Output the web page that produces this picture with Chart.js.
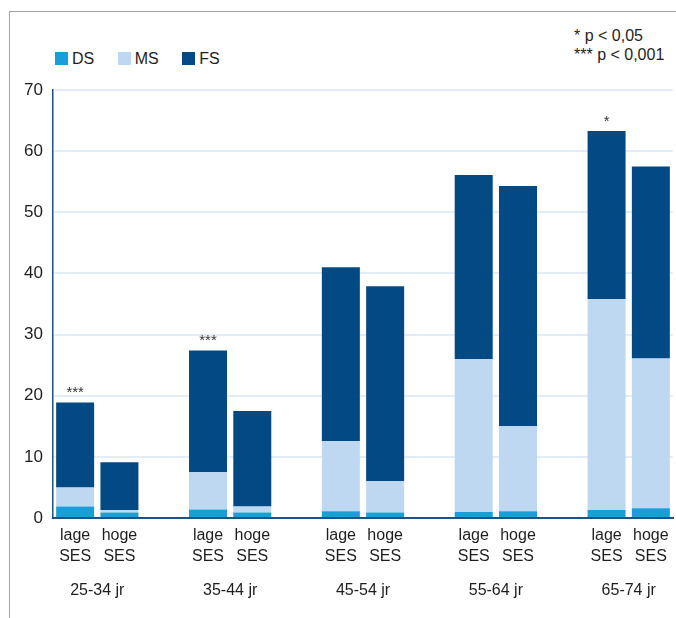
<!DOCTYPE html>
<html>
<head>
<meta charset="utf-8">
<script src="https://cdn.jsdelivr.net/npm/chart.js@4"></script>
<style>
  body { margin: 0; background: #fff; font-family: Arial, "Liberation Sans", sans-serif; color: #1e1e1e; }
  .wrap { position: relative; width: 676px; height: 618px; overflow: hidden; }
  .frame { position: absolute; left: 9px; top: 11px; width: 800px; height: 800px; border: 1.5px solid #a3a3a3; }
  .legend { position: absolute; left: 55px; top: 50px; display: flex; font-size: 16px; line-height: 17px; }
  .legend__item { display: flex; align-items: center; margin-right: 23.5px; }
  .legend__box { width: 13px; height: 13px; margin-right: 4px; }
  .note { position: absolute; left: 574px; top: 26px; font-size: 16px; line-height: 19px; }
  canvas { position: absolute; left: 0; top: 0; }
</style>
</head>
<body>
<div class="wrap">
  <div class="frame"></div>
  <div class="legend"></div>
  <div class="note">* p &lt; 0,05<br>*** p &lt; 0,001</div>
  <canvas id="chart" width="676" height="618"></canvas>
</div>
<script>
// Age groups, each with a lage / hoge SES bar
const ageGroups = ['25-34 jr', '35-44 jr', '45-54 jr', '55-64 jr', '65-74 jr'];
const sesLabels = [['lage', 'SES'], ['hoge', 'SES']];

// Stacked segments per bar, in order lage/hoge for each age group
const dsValues = [1.9, 0.9, 1.4, 0.9, 1.1, 0.9, 1.0, 1.1, 1.3, 1.6];
const msValues = [3.1, 0.4, 6.1, 1.0, 11.5, 5.1, 25.0, 13.9, 34.5, 24.5];
const fsValues = [13.9, 7.8, 19.9, 15.6, 28.4, 31.9, 30.1, 39.3, 27.5, 31.4];

// Significance marks above the bars
const sigMarks = ['***', '', '***', '', '', '', '', '', '*', ''];

const yTicks = [0, 10, 20, 30, 40, 50, 60, 70];

// Each group takes three slots: two bars and an empty gap (none after the last)
function toSlots(values) {
  var out = [];
  values.forEach((v, i) => {
    out.push(v);
    if (i % 2 === 1 && i < values.length - 1) out.push(null);
  });
  return out;
}

var labels = [];
ageGroups.forEach((g, i) => {
  labels.push(sesLabels[0], sesLabels[1]);
  if (i < ageGroups.length - 1) labels.push('');
});

const FONT = 'Arial, "Liberation Sans", sans-serif';
const AXIS_BLUE = '#1d5286';

const htmlLegend = {
  id: 'htmlLegend',
  afterUpdate(chart) {
    var box = document.querySelector('.legend');
    box.innerHTML = '';
    chart.data.datasets.forEach(d => {
      var item = document.createElement('span');
      item.className = 'legend__item';
      var sw = document.createElement('span');
      sw.className = 'legend__box';
      sw.style.backgroundColor = d.backgroundColor;
      item.appendChild(sw);
      item.appendChild(document.createTextNode(d.label));
      box.appendChild(item);
    });
  }
};

// Stars over the top of each stacked bar
const sigLabels = {
  id: 'sigLabels',
  afterDatasetsDraw(chart) {
    var ctx = chart.ctx;
    var top = chart.getDatasetMeta(chart.data.datasets.length - 1).data;
    var slots = toSlots(sigMarks);
    ctx.save();
    ctx.font = '15px ' + FONT;
    ctx.fillStyle = '#333';
    ctx.textAlign = 'center';
    ctx.textBaseline = 'alphabetic';
    slots.forEach((s, i) => {
      if (!s) return;
      var el = top[i];
      ctx.fillText(s, el.x, el.y - 5);
    });
    ctx.restore();
  }
};

new Chart(document.getElementById('chart'), {
  type: 'bar',
  data: {
    labels: labels,
    datasets: [
      { label: 'DS', data: toSlots(dsValues), backgroundColor: '#189fda' },
      { label: 'MS', data: toSlots(msValues), backgroundColor: '#bed8f1' },
      { label: 'FS', data: toSlots(fsValues), backgroundColor: '#034a84' }
    ]
  },
  options: {
    responsive: false,
    animation: false,
    barPercentage: 0.858,
    categoryPercentage: 1,
    layout: { padding: { top: 90, right: 3, left: 0, bottom: 0 } },
    plugins: {
      legend: { display: false },
      tooltip: { enabled: false }
    },
    scales: {
      x: {
        stacked: true,
        weight: 0,
        z: 1,
        grid: { display: false, drawTicks: false },
        border: { display: true, color: AXIS_BLUE, width: 2 },
        ticks: {
          color: '#1e1e1e',
          font: { family: FONT, size: 16, lineHeight: 1.3 },
          padding: 7,
          maxRotation: 0,
          autoSkip: false
        },
        afterFit(scale) { scale.height = 58; }
      },
      // Age group names, centred under each pair of bars
      group: {
        type: 'linear',
        position: 'bottom',
        weight: 1,
        offset: false,
        bounds: 'data',
        min: -0.5,
        max: 13.5,
        grid: { display: false, drawTicks: false, offset: false },
        border: { display: false },
        afterBuildTicks(scale) {
          scale.ticks = ageGroups.map((g, i) => ({ value: i * 3 + 0.5 }));
        },
        ticks: {
          color: '#1e1e1e',
          font: { family: FONT, size: 16, lineHeight: 1.3 },
          padding: 4,
          maxRotation: 0,
          autoSkip: false,
          callback: (v, i) => ageGroups[i]
        },
        afterFit(scale) { scale.height = 42; }
      },
      y: {
        stacked: true,
        min: 0,
        max: 70,
        grid: { color: '#e3edf8', lineWidth: 2, drawTicks: false },
        border: { display: true, color: AXIS_BLUE, width: 1.5 },
        afterBuildTicks(scale) {
          scale.ticks = yTicks.map(v => ({ value: v }));
        },
        ticks: {
          color: '#1e1e1e',
          font: { family: FONT, size: 17 },
          padding: 10
        },
        afterFit(scale) { scale.width = 53; }
      }
    }
  },
  plugins: [htmlLegend, sigLabels]
});
</script>
</body>
</html>
